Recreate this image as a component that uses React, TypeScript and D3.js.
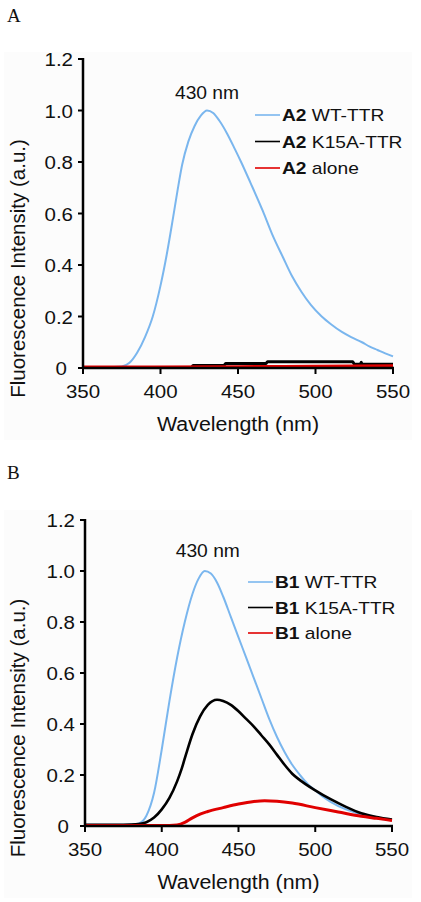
import React from "react";
import * as d3 from "d3";

// ---------- data ----------
const xTicks = [350, 400, 450, 500, 550];
const yTicks = [0, 0.2, 0.4, 0.6, 0.8, 1.0, 1.2];
const yTickLabels = ["0", "0.2", "0.4", "0.6", "0.8", "1.0", "1.2"];

// Panel A
const aBlueWl = [350, 360, 370, 375, 380, 385, 390, 395, 400, 404, 408, 411, 414, 418, 422, 426, 430, 434, 438, 443, 448, 452, 458, 466, 472, 479, 485, 491, 497, 504, 510, 517, 523, 530, 535, 540, 545, 550];
const aBlueVal = [0.003, 0.003, 0.004, 0.006, 0.02, 0.06, 0.12, 0.2, 0.32, 0.44, 0.58, 0.69, 0.79, 0.88, 0.94, 0.98, 1.0, 0.99, 0.96, 0.91, 0.85, 0.8, 0.72, 0.61, 0.52, 0.43, 0.355, 0.295, 0.245, 0.2, 0.17, 0.14, 0.12, 0.1, 0.083, 0.07, 0.057, 0.045];
const aBlackWl = [350, 420, 421, 441, 442, 468, 469, 524, 525, 529, 529.5, 530, 550];
const aBlackVal = [0.002, 0.002, 0.01, 0.01, 0.017, 0.017, 0.024, 0.024, 0.015, 0.015, 0.022, 0.015, 0.015];
const aRedWl = [350, 450, 500, 550];
const aRedVal = [0.004, 0.005, 0.007, 0.009];

// Panel B
const bBlueWl = [350, 370, 380, 385, 390, 395, 400, 405, 410, 415, 420, 424, 428, 432, 436, 440, 445, 450, 455, 460, 465, 470, 475, 480, 485, 490, 495, 500, 505, 510, 520, 530, 540, 550];
const bBlueVal = [0.005, 0.005, 0.006, 0.01, 0.04, 0.13, 0.3, 0.49, 0.66, 0.8, 0.91, 0.97, 1.0, 0.99, 0.955, 0.9, 0.82, 0.74, 0.66, 0.58, 0.5, 0.42, 0.35, 0.29, 0.24, 0.2, 0.165, 0.14, 0.115, 0.095, 0.065, 0.045, 0.03, 0.022];
const bBlackWl = [350, 370, 380, 385, 390, 395, 400, 405, 410, 413, 416, 420, 425, 430, 436, 440, 445, 450, 455, 460, 465, 470, 475, 480, 485, 490, 500, 510, 520, 530, 540, 550];
const bBlackVal = [0.005, 0.005, 0.006, 0.008, 0.015, 0.033, 0.065, 0.11, 0.175, 0.225, 0.285, 0.36, 0.43, 0.475, 0.495, 0.49, 0.475, 0.45, 0.42, 0.39, 0.355, 0.32, 0.28, 0.24, 0.205, 0.18, 0.14, 0.105, 0.075, 0.05, 0.035, 0.025];
const bRedWl = [350, 405, 410, 415, 420, 425, 430, 440, 450, 460, 467, 475, 485, 500, 515, 530, 540, 550];
const bRedVal = [0.002, 0.002, 0.004, 0.014, 0.032, 0.047, 0.057, 0.072, 0.086, 0.096, 0.099, 0.097, 0.09, 0.072, 0.055, 0.038, 0.03, 0.022];

const aLegend = ["WT-TTR", "K15A-TTR", "alone"];
const seriesColors = ["#7ab6ee", "#000000", "#e00000"];

const SANS = "'Liberation Sans', Arial, Helvetica, sans-serif";
const SERIF = "'Liberation Serif', 'Times New Roman', serif";

type PanelCfg = {
  letter: string;
  letterY: number;
  prefix: string;
  xr: [number, number];
  yr: [number, number];
  bgTop: number;
  bgBottom: number;
  series: { wl: number[]; val: number[]; width: number }[];
  legendX: number;
  legendY: number;
  legendStep: number;
  peakY: number;
};

const T = ({ x, y, size, sx = 1, anchor = "start", weight = "normal", family = SANS, children, rotate = 0 }: any) => (
  <text
    transform={`translate(${x},${y}) rotate(${rotate}) scale(${sx},1)`}
    fontSize={size}
    fontFamily={family}
    fontWeight={weight}
    textAnchor={anchor}
    fill="#111"
  >
    {children}
  </text>
);

function Panel({ cfg }: { cfg: PanelCfg }) {
  const x = d3.scaleLinear().domain([350, 550]).range(cfg.xr);
  const y = d3.scaleLinear().domain([0, 1.2]).range(cfg.yr);
  const [x0, x1] = cfg.xr;
  const [y0, y1] = cfg.yr;
  const line = d3
    .line<[number, number]>()
    .x((d) => x(d[0]))
    .y((d) => y(d[1]))
    .curve(d3.curveMonotoneX);
  const cx = (x0 + x1) / 2;
  return (
    <g>
      <rect x={4} y={cfg.bgTop} width={408} height={cfg.bgBottom - cfg.bgTop} fill="#fcfcfc" />
      <T x={7} y={cfg.letterY} size={19} family={SERIF}>{cfg.letter}</T>
      {cfg.series.map((s, i) => (
        <path
          key={i}
          d={line(s.wl.map((w, j) => [w, s.val[j]] as [number, number])) || ""}
          fill="none"
          stroke={seriesColors[i]}
          strokeWidth={s.width}
          strokeLinejoin="round"
        />
      ))}
      {/* axes */}
      <line x1={x0} x2={x0} y1={y1 - 1} y2={y0 + 1} stroke="#000" strokeWidth={2.5} />
      <line x1={x0 - 1} x2={x1 + 1} y1={y0} y2={y0} stroke="#000" strokeWidth={2.5} />
      {yTicks.map((t, i) => (
        <g key={"y" + t}>
          <line x1={x0 - 5} x2={x0} y1={y(t)} y2={y(t)} stroke="#000" strokeWidth={2} />
          <T x={t === 0 ? x0 - 16 : x0 - 10} y={y(t) + 7} size={19} sx={1.08} anchor="end">
            {yTickLabels[i]}
          </T>
        </g>
      ))}
      {xTicks.map((t) => (
        <g key={"x" + t}>
          <line x1={x(t)} x2={x(t)} y1={y0} y2={y0 + 6} stroke="#000" strokeWidth={2} />
          <T x={x(t)} y={y0 + 30} size={19} sx={1.08} anchor="middle">
            {t}
          </T>
        </g>
      ))}
      <T x={cx} y={y0 + 63} size={20} sx={1.07} anchor="middle">Wavelength (nm)</T>
      <T x={25} y={(y0 + y1) / 2 + 55} size={20.5} rotate={-90} anchor="middle">
        Fluorescence Intensity (a.u.)
      </T>
      <T x={x(430)} y={cfg.peakY} size={17.5} sx={1.1} anchor="middle">430 nm</T>
      {aLegend.map((name, i) => {
        const ly = cfg.legendY + i * cfg.legendStep;
        return (
          <g key={name}>
            <line x1={cfg.legendX} x2={cfg.legendX + 25} y1={ly} y2={ly} stroke={seriesColors[i]} strokeWidth={1.6} />
            <g transform={`translate(${cfg.legendX + 27},${ly + 6}) scale(1.2,1)`}>
              <text fontSize={16} fontFamily={SANS} fill="#111">
                <tspan fontWeight="bold">{cfg.prefix}</tspan>
                <tspan> {name}</tspan>
              </text>
            </g>
          </g>
        );
      })}
    </g>
  );
}

const panels: PanelCfg[] = [
  {
    letter: "A",
    letterY: 22,
    prefix: "A2",
    xr: [83, 393],
    yr: [368, 59],
    bgTop: 52,
    bgBottom: 440,
    series: [
      { wl: aBlueWl, val: aBlueVal, width: 2 },
      { wl: aBlackWl, val: aBlackVal, width: 3 },
      { wl: aRedWl, val: aRedVal, width: 3 },
    ],
    legendX: 255,
    legendY: 115,
    legendStep: 26.5,
    peakY: 99,
  },
  {
    letter: "B",
    letterY: 479,
    prefix: "B1",
    xr: [85, 392],
    yr: [826, 520],
    bgTop: 510,
    bgBottom: 898,
    series: [
      { wl: bBlueWl, val: bBlueVal, width: 2 },
      { wl: bBlackWl, val: bBlackVal, width: 2.6 },
      { wl: bRedWl, val: bRedVal, width: 3 },
    ],
    legendX: 248,
    legendY: 582,
    legendStep: 25.5,
    peakY: 557,
  },
];

export default function App() {
  return (
    <svg
      width={421}
      height={902}
      viewBox="0 0 421 902"
      style={{ position: "absolute", left: 0, top: 0, background: "#fff" }}
    >
      <rect width={421} height={902} fill="#fff" />
      {panels.map((p) => (
        <Panel key={p.letter} cfg={p} />
      ))}
    </svg>
  );
}
